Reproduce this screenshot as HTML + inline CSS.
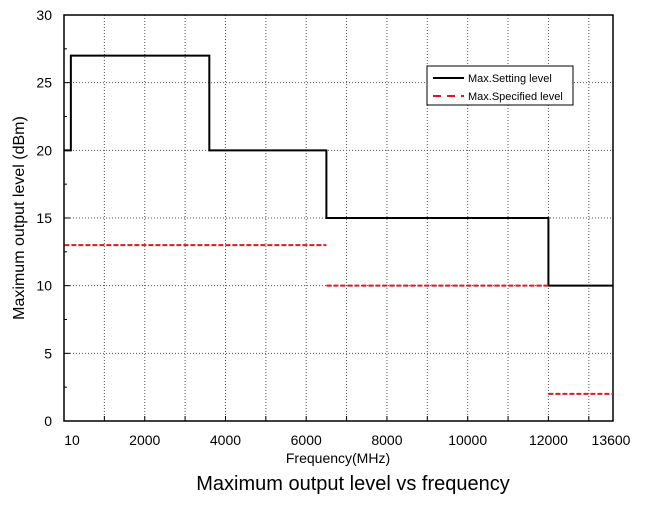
<!DOCTYPE html>
<html><head><meta charset="utf-8">
<style>
body{margin:0;background:#fff;width:647px;height:500px;overflow:hidden;font-family:"Liberation Sans",Arial,sans-serif}
</style></head>
<body>
<svg id="chart" width="647" height="500" xmlns="http://www.w3.org/2000/svg"></svg>
<script>
const xTicks=[10,2000,4000,6000,8000,10000,12000,13600];
const yTicks=[0,5,10,15,20,25,30];
const settingX=[10,170,170,3600,3600,6500,6500,12000,12000,13600];
const settingY=[20,20,27,27,20,20,15,15,10,10];
const specSegStart=[10,6500,12000];
const specSegEnd=[6500,12000,13600];
const specSegVal=[13,10,2];

const L=64,R=613,T=15,B=421;
const xs=v=>L+(v/13600)*(R-L);
const ys=v=>B-(v/30)*(B-T);
const svg=document.getElementById('chart');
const NS='http://www.w3.org/2000/svg';
function mk(tag,attrs,parent){const e=document.createElementNS(NS,tag);for(const k in attrs)e.setAttribute(k,attrs[k]);(parent||svg).appendChild(e);return e;}

// grid
for(let v=1000;v<13600;v+=1000){
  const g=mk('line',{x1:xs(v),x2:xs(v),y1:T,y2:B,stroke:'#555','stroke-width':1,'stroke-dasharray':'1,2'});
  
  
  const t=mk('line',{x1:xs(v),x2:xs(v),y1:B,y2:B-5,stroke:'#000','stroke-width':1});
  
  
}
for(let i=1;i<yTicks.length-1;i++){
  const v=yTicks[i];
  const g=mk('line',{x1:L,x2:R,y1:ys(v),y2:ys(v),stroke:'#555','stroke-width':1,'stroke-dasharray':'1,2'});
  
  
}
for(let v=0;v<=30;v+=2.5){
  const t=mk('line',{x1:L,x2:L+(v%5===0?6:3),y1:ys(v),y2:ys(v),stroke:'#000','stroke-width':1});
  
  
}
// frame
const fr=mk('rect',{x:L,y:T,width:R-L,height:B-T,fill:'none',stroke:'#000','stroke-width':1.5});



// tick labels
xTicks.forEach((v,i)=>{
  let x=xs(v); if(i===0)x=72; if(i===xTicks.length-1)x=xs(v)-2;
  const t=mk('text',{x:x,y:445,'font-size':14,'text-anchor':'middle',fill:'#000'});
  t.textContent=v;
  
  
});
yTicks.forEach(v=>{
  const t=mk('text',{x:52,y:ys(v)+5,'font-size':14,'text-anchor':'end',fill:'#000'});
  t.textContent=v;
  
  
});

// series
let d='';
settingX.forEach((v,i)=>{d+=(i?'L':'M')+xs(v)+','+ys(settingY[i]);});
const p=mk('path',{d:d,fill:'none',stroke:'#000','stroke-width':2});


specSegVal.forEach((v,i)=>{
  const s=mk('line',{x1:xs(specSegStart[i]),x2:xs(specSegEnd[i]),y1:ys(v),y2:ys(v),stroke:'#e8141c','stroke-width':2,'stroke-dasharray':'5,2'});
  
  
});

// axis titles
const xt=mk('text',{x:338,y:463,'font-size':14,'text-anchor':'middle'});
xt.textContent='Frequency(MHz)';


const yt=mk('text',{x:0,y:0,'font-size':16,'text-anchor':'middle',transform:'translate(24,218) rotate(-90)'});
yt.textContent='Maximum output level (dBm)';


const ct=mk('text',{x:353,y:490,'font-size':20,'text-anchor':'middle'});
ct.textContent='Maximum output level vs frequency';



// legend
const lg=mk('g',{});


mk('rect',{x:427,y:66,width:146,height:39,fill:'#fff',stroke:'#000','stroke-width':1},lg);
mk('line',{x1:433,x2:464,y1:78,y2:78,stroke:'#000','stroke-width':2},lg);
const l1=mk('text',{x:468,y:82,'font-size':11},lg);l1.textContent='Max.Setting level';


mk('line',{x1:433,x2:464,y1:96,y2:96,stroke:'#e8141c','stroke-width':2,'stroke-dasharray':'8,6'},lg);
const l2=mk('text',{x:468,y:100,'font-size':11},lg);l2.textContent='Max.Specified level';


</script>
</body></html>
